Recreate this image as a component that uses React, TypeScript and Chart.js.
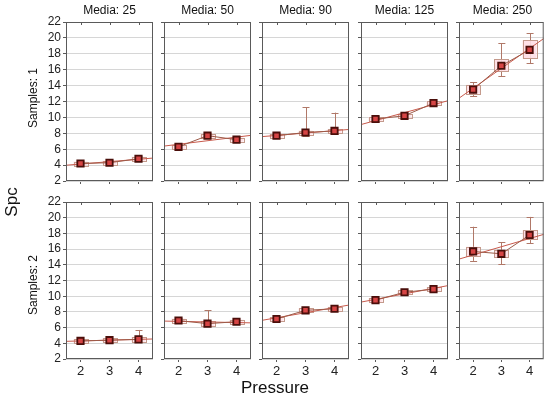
import React, { useEffect, useRef } from 'react';
import { Chart, registerables } from 'chart.js';

Chart.register(...registerables);

// ---------------- data ----------------
const mediaLevels = [25, 50, 90, 125, 250];
const pressureLevels = [2, 3, 4];
const sampleLevels = [1, 2];
const yTickValues = [2, 4, 6, 8, 10, 12, 14, 16, 18, 20, 22];

// Samples: 1  (one row per Media level, values for Pressure 2,3,4)
const s1Mean = [
  [4.2, 4.3, 4.8],
  [6.3, 7.7, 7.2],
  [7.7, 8.1, 8.3],
  [9.8, 10.2, 11.8],
  [13.5, 16.5, 18.5],
];
const s1BoxLo = [
  [3.95, 4.05, 4.55],
  [6.05, 7.45, 6.95],
  [7.45, 7.85, 8.05],
  [9.55, 9.95, 11.55],
  [13.0, 15.75, 17.4],
];
const s1BoxHi = [
  [4.45, 4.55, 5.05],
  [6.55, 7.95, 7.45],
  [7.95, 8.35, 8.55],
  [10.05, 10.45, 12.05],
  [14.1, 17.3, 19.7],
];
const s1WhiskLo = [
  [3.9, 4.0, 4.5],
  [6.0, 7.4, 6.9],
  [7.4, 7.7, 7.9],
  [9.4, 9.9, 11.5],
  [12.7, 15.2, 16.8],
];
const s1WhiskHi = [
  [4.5, 4.6, 5.1],
  [6.6, 8.0, 7.5],
  [8.0, 11.3, 10.6],
  [10.2, 10.5, 12.1],
  [14.4, 19.3, 20.6],
];

// Samples: 2
const s2Mean = [
  [4.3, 4.4, 4.5],
  [6.9, 6.5, 6.75],
  [7.1, 8.2, 8.4],
  [9.5, 10.5, 10.9],
  [15.7, 15.4, 17.8],
];
const s2BoxLo = [
  [4.05, 4.15, 4.2],
  [6.65, 6.2, 6.5],
  [6.85, 7.95, 8.15],
  [9.25, 10.25, 10.65],
  [15.1, 15.0, 17.25],
];
const s2BoxHi = [
  [4.55, 4.65, 4.8],
  [7.15, 6.8, 7.0],
  [7.35, 8.45, 8.65],
  [9.75, 10.75, 11.15],
  [16.3, 15.9, 18.4],
];
const s2WhiskLo = [
  [4.0, 4.1, 4.2],
  [6.6, 6.2, 6.5],
  [6.8, 7.9, 8.1],
  [9.2, 10.2, 10.6],
  [14.5, 14.1, 16.75],
];
const s2WhiskHi = [
  [4.6, 4.7, 5.7],
  [7.2, 8.2, 7.0],
  [7.4, 8.5, 8.7],
  [9.8, 10.8, 11.2],
  [18.85, 16.9, 20.1],
];

const meansByRow = [s1Mean, s2Mean];
const boxLoByRow = [s1BoxLo, s2BoxLo];
const boxHiByRow = [s1BoxHi, s2BoxHi];
const whiskLoByRow = [s1WhiskLo, s2WhiskLo];
const whiskHiByRow = [s1WhiskHi, s2WhiskHi];

// ---------------- layout ----------------
const W = 550;
const H = 401;
const colLeft = [66, 164, 262, 361, 459];
const panelW = 87;
const rowTop = [22, 202];
const rowBottom = [181, 359];
const xMin = 1.5;
const xMax = 4.5;
const yAxisW = 30;
const xAxisH = 22;
const FONT = "'Liberation Sans', Arial, sans-serif";

function linFit(xs: number[], ys: number[]) {
  const n = xs.length;
  const mx = xs.reduce((a, b) => a + b, 0) / n;
  const my = ys.reduce((a, b) => a + b, 0) / n;
  let sxy = 0, sxx = 0;
  for (let i = 0; i < n; i++) {
    sxy += (xs[i] - mx) * (ys[i] - my);
    sxx += (xs[i] - mx) * (xs[i] - mx);
  }
  const b = sxy / sxx;
  return { a: my - b * mx, b };
}

function Panel({ row, col }: { row: number; col: number }) {
  const ref = useRef<HTMLCanvasElement | null>(null);
  useEffect(() => {
    if (!ref.current) return;
    const means = meansByRow[row][col];
    const bLo = boxLoByRow[row][col];
    const bHi = boxHiByRow[row][col];
    const wLo = whiskLoByRow[row][col];
    const wHi = whiskHiByRow[row][col];
    const fit = linFit(pressureLevels, means);
    const showY = col === 0;
    const showX = row === 1;

    const boxPlugin = {
      id: 'boxWhisk' + row + col,
      beforeDatasetsDraw(chart: any) {
        const ctx = chart.ctx;
        const xs = chart.scales.x;
        const ys = chart.scales.y;
        ctx.save();
        pressureLevels.forEach((p, i) => {
          const px = xs.getPixelForValue(p);
          const yTop = ys.getPixelForValue(bHi[i]);
          const yBot = ys.getPixelForValue(bLo[i]);
          const wT = ys.getPixelForValue(wHi[i]);
          const wB = ys.getPixelForValue(wLo[i]);
          // whiskers
          ctx.strokeStyle = '#b07868';
          ctx.lineWidth = 1;
          ctx.beginPath();
          ctx.moveTo(Math.round(px) + 0.5, wT);
          ctx.lineTo(Math.round(px) + 0.5, wB);
          ctx.moveTo(px - 3, Math.round(wT) + 0.5);
          ctx.lineTo(px + 4, Math.round(wT) + 0.5);
          ctx.moveTo(px - 3, Math.round(wB) + 0.5);
          ctx.lineTo(px + 4, Math.round(wB) + 0.5);
          ctx.stroke();
          // box
          ctx.fillStyle = 'rgba(255, 222, 228, 0.9)';
          ctx.fillRect(px - 7, yTop, 14, yBot - yTop);
          ctx.strokeStyle = '#c49a8c';
          ctx.strokeRect(Math.round(px - 7) + 0.5, Math.round(yTop) + 0.5, 14, Math.round(yBot - yTop));
        });
        ctx.restore();
      },
      afterDraw(chart: any) {
        const ctx = chart.ctx;
        const a = chart.chartArea;
        const xs = chart.scales.x;
        ctx.save();
        ctx.strokeStyle = '#5a5a5a';
        ctx.lineWidth = 1;
        ctx.strokeRect(a.left + 0.5, a.top + 0.5, a.right - a.left - 1, a.bottom - a.top - 1);
        ctx.beginPath();
        pressureLevels.forEach((p) => {
          const px = Math.round(xs.getPixelForValue(p)) + 0.5;
          ctx.moveTo(px, a.top);
          ctx.lineTo(px, a.top + 3);
        });
        ctx.stroke();
        ctx.restore();
      },
    };

    const chart = new Chart(ref.current, {
      type: 'line',
      data: {
        datasets: [
          {
            label: 'fit',
            data: [
              { x: xMin, y: fit.a + fit.b * xMin },
              { x: xMax, y: fit.a + fit.b * xMax },
            ],
            borderColor: '#c85a4c',
            borderWidth: 1,
            pointRadius: 0,
            order: 2,
          },
          {
            label: 'mean',
            data: pressureLevels.map((p, i) => ({ x: p, y: means[i] })),
            borderColor: '#9c5a48',
            borderWidth: 1,
            pointStyle: 'rect',
            pointRadius: 4.5,
            pointBackgroundColor: '#d64545',
            pointBorderColor: '#4a0e0a',
            pointBorderWidth: 1.8,
            order: 1,
          },
        ],
      },
      options: {
        responsive: false,
        animation: false,
        events: [],
        layout: {
          padding: {
            left: colLeft[col] - (showY ? yAxisW : 0),
            right: W - colLeft[col] - panelW,
            top: rowTop[row],
            bottom: H - rowBottom[row] - (showX ? xAxisH : 0),
          },
        },
        plugins: {
          legend: { display: false },
          tooltip: { enabled: false },
          title: { display: false },
        },
        scales: {
          x: {
            type: 'linear',
            min: xMin,
            max: xMax,
            afterBuildTicks: (s: any) => {
              s.ticks = pressureLevels.map((v) => ({ value: v }));
            },
            afterFit: (s: any) => {
              s.height = showX ? xAxisH : 0;
            },
            ticks: {
              display: showX,
              autoSkip: false,
              maxRotation: 0,
              padding: 2,
              color: '#222',
              font: { size: 13, family: FONT },
            },
            grid: {
              drawOnChartArea: false,
              drawTicks: true,
              tickLength: 3,
              tickColor: '#5a5a5a',
            },
            border: { display: false },
          },
          y: {
            type: 'linear',
            min: yTickValues[0],
            max: yTickValues[yTickValues.length - 1],
            afterBuildTicks: (s: any) => {
              s.ticks = yTickValues.map((v) => ({ value: v }));
            },
            afterFit: (s: any) => {
              s.width = showY ? yAxisW : 0;
            },
            ticks: {
              display: showY,
              autoSkip: false,
              padding: 2,
              color: '#222',
              font: { size: 12, family: FONT },
            },
            grid: {
              color: '#d6d6d6',
              drawTicks: true,
              tickLength: 3,
              tickColor: '#5a5a5a',
            },
            border: { display: false },
          },
        },
      },
      plugins: [boxPlugin],
    } as any);
    return () => chart.destroy();
  }, [row, col]);
  return (
    <canvas
      ref={ref}
      width={W}
      height={H}
      style={{ position: 'absolute', left: 0, top: 0, width: W, height: H }}
    />
  );
}

const textBase: React.CSSProperties = {
  position: 'absolute',
  whiteSpace: 'nowrap',
  fontFamily: FONT,
  color: '#111',
  lineHeight: 1,
};

export default function App() {
  const panels: React.ReactNode[] = [];
  sampleLevels.forEach((_, r) => {
    mediaLevels.forEach((_, c) => {
      panels.push(<Panel key={r + '-' + c} row={r} col={c} />);
    });
  });
  return (
    <div
      style={{
        position: 'fixed',
        left: 0,
        top: 0,
        width: W,
        height: H,
        background: '#fff',
        overflow: 'hidden',
      }}
    >
      {panels}
      {mediaLevels.map((m, c) => (
        <div
          key={'t' + c}
          style={{
            ...textBase,
            fontSize: 12,
            left: colLeft[c] + panelW / 2,
            top: 10,
            transform: 'translate(-50%, -50%)',
          }}
        >
          {'Media: ' + m}
        </div>
      ))}
      {sampleLevels.map((s, r) => (
        <div
          key={'s' + r}
          style={{
            ...textBase,
            fontSize: 12,
            left: 33,
            top: r === 0 ? 98 : 285,
            transform: 'translate(-50%, -50%) rotate(-90deg)',
          }}
        >
          {'Samples: ' + s}
        </div>
      ))}
      <div
        style={{
          ...textBase,
          fontSize: 17,
          left: 11,
          top: 202,
          transform: 'translate(-50%, -50%) rotate(-90deg)',
        }}
      >
        Spc
      </div>
      <div
        style={{
          ...textBase,
          fontSize: 17,
          left: 275,
          top: 387,
          transform: 'translate(-50%, -50%)',
        }}
      >
        Pressure
      </div>
    </div>
  );
}
